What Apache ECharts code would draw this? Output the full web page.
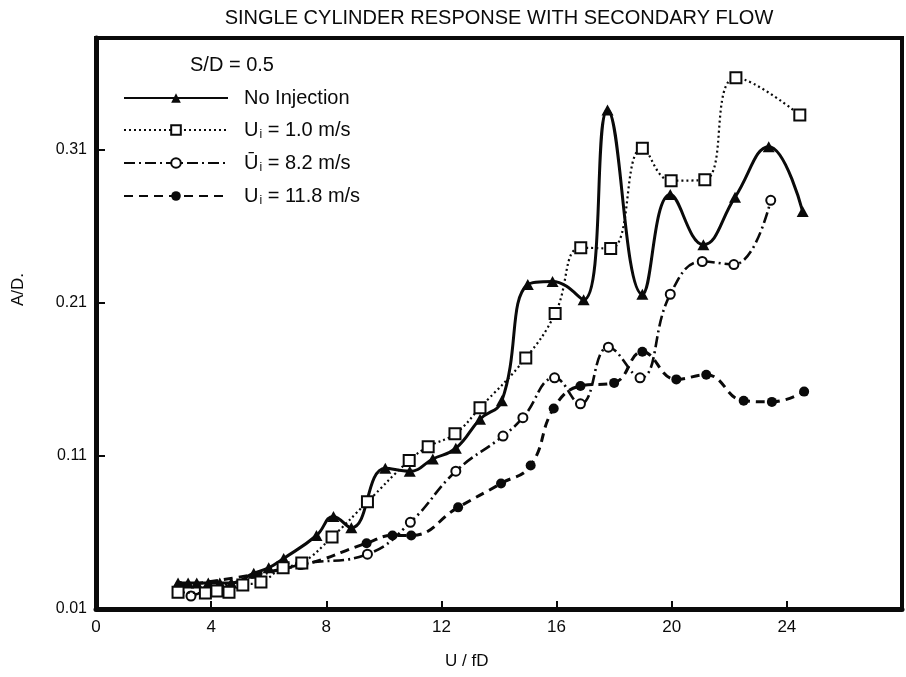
<!DOCTYPE html>
<html>
<head>
<meta charset="utf-8">
<script src="https://cdn.jsdelivr.net/npm/echarts@6/dist/echarts.min.js"></script>
<style>
  html, body { margin: 0; padding: 0; background: #fff; }
  #chart { width: 906px; height: 677px; }
</style>
</head>
<body>
<div id="chart"></div>
<script>
// Reduced velocity U/fD and amplitude ratio A/D for each injection case
const uNoInjection = [2.85, 3.2, 3.5, 3.9, 4.3, 4.7, 5.48, 6.0, 6.52, 7.66, 8.25, 8.87, 10.05, 10.9, 11.7, 12.5, 13.34, 14.1, 15.0, 15.86, 16.94, 17.77, 18.98, 19.95, 21.1, 22.2, 23.37, 24.55];
const adNoInjection = [0.027, 0.027, 0.027, 0.027, 0.027, 0.027, 0.0334, 0.0369, 0.043, 0.058, 0.0705, 0.063, 0.102, 0.100, 0.108, 0.115, 0.134, 0.146, 0.222, 0.224, 0.212, 0.336, 0.2156, 0.2807, 0.248, 0.279, 0.312, 0.2696];

const uInj10 = [2.85, 3.8, 4.2, 4.62, 5.1, 5.73, 6.5, 7.15, 8.2, 9.43, 10.88, 11.54, 12.47, 13.34, 14.93, 15.95, 16.84, 17.88, 18.98, 19.98, 21.15, 22.23, 24.45];
const adInj10 = [0.021, 0.0204, 0.0217, 0.021, 0.0256, 0.0276, 0.037, 0.040, 0.057, 0.080, 0.107, 0.116, 0.1245, 0.1414, 0.174, 0.203, 0.246, 0.2455, 0.311, 0.2898, 0.2904, 0.357, 0.3327];

const uInj82 = [3.3, 7.1, 9.43, 10.92, 12.5, 14.14, 14.83, 15.93, 16.83, 17.8, 18.9, 19.95, 21.06, 22.16, 23.44];
const adInj82 = [0.0185, 0.039, 0.0458, 0.0666, 0.100, 0.123, 0.135, 0.161, 0.144, 0.181, 0.161, 0.2156, 0.237, 0.235, 0.277];

const uInj118 = [2.9, 7.2, 9.4, 10.3, 10.95, 12.58, 14.07, 15.1, 15.9, 16.83, 18.0, 18.98, 20.16, 21.2, 22.5, 23.48, 24.6];
const adInj118 = [0.025, 0.039, 0.053, 0.058, 0.058, 0.0764, 0.092, 0.1037, 0.141, 0.1557, 0.1577, 0.178, 0.160, 0.163, 0.146, 0.1453, 0.152];

const seriesNames = ['No Injection', 'Ui = 1.0 m/s', 'Ui = 8.2 m/s', 'Ui = 11.8 m/s'];
const legendRich = {
  'No Injection': 'No Injection',
  'Ui = 1.0 m/s': '{u|U}{s|i}{t| = 1.0 m/s}',
  'Ui = 8.2 m/s': '{u|\u016A}{s|i}{t| = 8.2 m/s}',
  'Ui = 11.8 m/s': '{u|U}{s|i}{t| = 11.8 m/s}'
};

const xTickLabels = ['0', '4', '8', '12', '16', '20', '24'];
const yTickLabels = ['0.01', '0.11', '0.21', '0.31'];

const pairs = (xs, ys) => xs.map((x, i) => [x, ys[i]]);
const FONT = '"Liberation Sans", Arial, Helvetica, sans-serif';
const INK = '#0a0a0a';

const chart = echarts.init(document.getElementById('chart'), null, { renderer: 'canvas' });

const openMarker = { color: '#fff', borderColor: INK, borderWidth: 2 };
const solidMarker = { color: INK, borderColor: INK, borderWidth: 0 };

chart.setOption({
  backgroundColor: '#fff',
  animation: false,
  textStyle: { fontFamily: FONT, color: INK },
  grid: {
    left: 96, right: 4, top: 38, bottom: 68,
    show: true, borderColor: INK, borderWidth: 4, backgroundColor: 'transparent'
  },
  xAxis: {
    type: 'value', min: 0, max: 28, interval: 4,
    axisLine: { show: true, lineStyle: { color: INK, width: 5 } },
    axisTick: { show: true, inside: true, length: 8, lineStyle: { color: INK, width: 2 } },
    splitLine: { show: false },
    axisLabel: {
      margin: 10, fontSize: 17, color: INK, fontFamily: FONT,
      formatter: v => {
        const i = Math.round(v / 4);
        return Math.abs(v - i * 4) < 1e-6 && i < xTickLabels.length ? xTickLabels[i] : '';
      }
    }
  },
  yAxis: {
    type: 'value', min: 0.01, max: 0.383, interval: 0.1,
    axisLine: { show: true, lineStyle: { color: INK, width: 5 } },
    axisTick: { show: true, inside: true, length: 9, lineStyle: { color: INK, width: 2 } },
    splitLine: { show: false },
    axisLabel: {
      margin: 9, fontSize: 16, color: INK, fontFamily: FONT,
      formatter: v => {
        const i = Math.round((v - 0.01) / 0.1);
        return Math.abs(v - (0.01 + i * 0.1)) < 1e-6 && i < yTickLabels.length ? yTickLabels[i] : '';
      }
    }
  },
  legend: {
    orient: 'vertical', left: 123, top: 88, padding: 0,
    itemWidth: 104, itemHeight: 12, itemGap: 12,
    data: seriesNames,
    formatter: name => legendRich[name],
    textStyle: {
      fontSize: 20, color: INK, fontFamily: FONT, padding: [0, 0, 0, 11],
      rich: {
        u: { fontSize: 20, fontFamily: FONT, color: INK },
        s: { fontSize: 12, fontFamily: FONT, color: INK, padding: [10, 0, 0, 1] },
        t: { fontSize: 20, fontFamily: FONT, color: INK }
      }
    },
    selectedMode: false
  },
  graphic: [
    { type: 'text', x: 499, y: 8, style: { text: 'SINGLE CYLINDER RESPONSE WITH SECONDARY FLOW', font: '20px ' + FONT, fill: INK, align: 'center' } },
    { type: 'text', left: 190, top: 55, style: { text: 'S/D = 0.5', font: '20px ' + FONT, fill: INK } },
    { type: 'text', left: 445, top: 653, style: { text: 'U / fD', font: '17px ' + FONT, fill: INK } },
    { type: 'text', x: 10, y: 306, rotation: Math.PI / 2, style: { text: 'A/D.', font: '17px ' + FONT, fill: INK } }
  ],
  series: [
    {
      name: seriesNames[0], type: 'line', smooth: 0.45,
      data: pairs(uNoInjection, adNoInjection),
      symbol: 'triangle', symbolSize: [12, 11],
      lineStyle: { color: INK, width: 3, type: 'solid' },
      itemStyle: solidMarker, z: 4
    },
    {
      name: seriesNames[1], type: 'line', smooth: 0.45,
      data: pairs(uInj10, adInj10),
      symbol: 'rect', symbolSize: 11,
      lineStyle: { color: INK, width: 2.2, type: [2, 3] },
      itemStyle: openMarker, z: 5
    },
    {
      name: seriesNames[2], type: 'line', smooth: 0.45,
      data: pairs(uInj82, adInj82),
      symbol: 'circle', symbolSize: 9,
      lineStyle: { color: INK, width: 2.6, type: [11, 4, 2, 4] },
      itemStyle: openMarker, z: 3
    },
    {
      name: seriesNames[3], type: 'line', smooth: 0.45,
      data: pairs(uInj118, adInj118),
      symbol: 'circle', symbolSize: 10,
      lineStyle: { color: INK, width: 3, type: [9, 6] },
      itemStyle: solidMarker, z: 2
    }
  ]
});
</script>
</body>
</html>
